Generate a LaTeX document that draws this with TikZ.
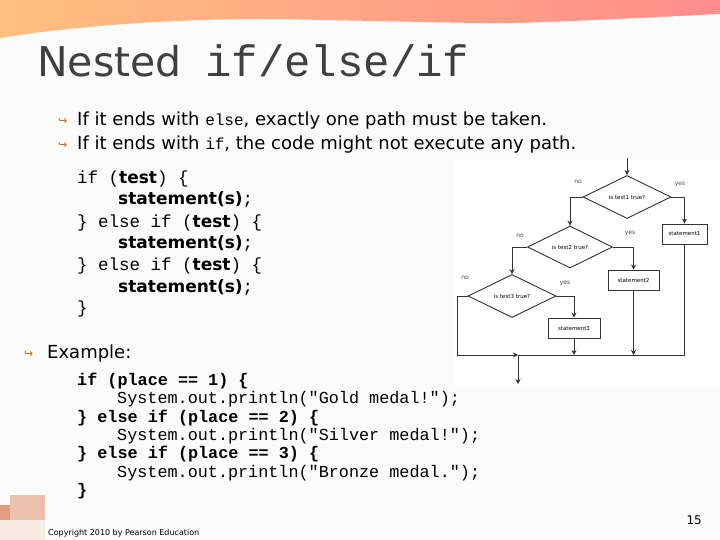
\documentclass[tikz,border=0pt]{standalone}
\usepackage{fontspec}
\setmainfont{DejaVu Sans}
\setmonofont{Liberation Mono}
\newfontfamily\djvfont{DejaVu Sans}
\usetikzlibrary{shapes.geometric,arrows.meta}
\begin{document}
\begin{tikzpicture}[x=1pt,y=-1pt,
  fc/.style={draw=black!80,line width=0.9pt},
  dia/.style={fc,diamond,aspect=2.05,inner sep=0pt,font=\fontsize{5.5}{6}\selectfont},
  box/.style={fc,rectangle,inner sep=0pt,font=\fontsize{5.5}{6}\selectfont},
  arr/.style={fc,-{Stealth[length=5pt,width=5pt]}},
  lbl/.style={font=\fontsize{6}{6}\selectfont,text=black!70},
  code/.style={anchor=base west,font=\ttfamily\fontsize{17.5}{17}\selectfont,inner sep=0pt},
  ex/.style={anchor=base west,font=\ttfamily\fontsize{16.8}{16}\selectfont,inner sep=0pt},
  bul/.style={anchor=base west,font=\fontsize{18}{18}\selectfont,inner sep=0pt},
  bmark/.style={anchor=base west,inner sep=0pt,text=orange!80!black,font=\djvfont\fontsize{11}{11}\selectfont}]
\useasboundingbox (0,0) rectangle (720,540);
\fill[white!97!gray] (0,0) rectangle (720,540);
% top wave
\shade[left color=orange!50!white, right color=red!45!white] (0,0) -- (720,0) -- (720,18) .. controls (600,28) and (450,22) .. (320,20) .. controls (200,16) and (80,25) .. (0,38) -- cycle;
\fill[white!97!gray] (0,40) .. controls (80,27) and (200,14) .. (320,24) .. controls (450,28) and (600,20) .. (720,14) -- (720,40) -- cycle;
% title
\node[anchor=base west,inner sep=0pt,font=\fontsize{41}{41}\selectfont,text=black!75] (t1) at (37,77) {Nested};
\node[anchor=base west,inner sep=0pt,font=\ttfamily\fontsize{44}{44}\selectfont,text=black!75] (t2) at (205,77) {if/else/if};
% bullets
\node[bmark] (b1) at (58,125) {↪};
\node[bul] (l1) at (77,126) {If it ends with \texttt{\fontsize{16}{16}\selectfont else}, exactly one path must be taken.};
\node[bmark] (b2) at (58,149) {↪};
\node[bul] (l2) at (77,150) {If it ends with \texttt{\fontsize{16}{16}\selectfont if}, the code might not execute any path.};
% code
\node[code] (c1) at (77,184) {if (\textbf{\rmfamily\fontsize{17}{17}\selectfont test}) \{};
\node[code] (c2) at (118,205) {\textbf{\rmfamily\fontsize{17}{17}\selectfont statement(s)};};
\node[code] (c3) at (77,227) {\} else if (\textbf{\rmfamily\fontsize{17}{17}\selectfont test}) \{};
\node[code] (c4) at (118,248) {\textbf{\rmfamily\fontsize{17}{17}\selectfont statement(s)};};
\node[code] (c5) at (77,270) {\} else if (\textbf{\rmfamily\fontsize{17}{17}\selectfont test}) \{};
\node[code] (c6) at (118,292) {\textbf{\rmfamily\fontsize{17}{17}\selectfont statement(s)};};
\node[code] (c7) at (77,313) {\}};
% flowchart
\fill[white] (455,160) rectangle (720,385);
\node[dia,minimum width=88pt,minimum height=43pt] (d1) at (627,197) {is test1 true?};
\node[dia,minimum width=85pt,minimum height=42pt] (d2) at (570,247) {is test2 true?};
\node[dia,minimum width=88pt,minimum height=43pt] (d3) at (512,296) {is test3 true?};
\node[box,minimum width=45pt,minimum height=20pt] (s1) at (684.5,234) {statement1};
\node[box,minimum width=51pt,minimum height=20pt] (s2) at (633.5,280) {statement2};
\node[box,minimum width=52pt,minimum height=20pt] (s3) at (574,328) {statement3};
\coordinate (top) at (627,158);
\coordinate (ml) at (457,355);
\coordinate (mm) at (518,355);
\coordinate (mr) at (689,355);
\coordinate (end) at (518,384);
\draw[arr] (top) -- (d1.north);
\draw[arr] (d1.east) -| (s1.north);
\draw[arr] (d1.west) -| (d2.north);
\draw[arr] (d2.east) -| (s2.north);
\draw[arr] (d2.west) -| (d3.north);
\draw[arr] (d3.east) -| (s3.north);
\draw[fc] (d3.west) -| (ml);
\draw[arr] (ml) -- (mm);
\draw[arr] (s3.south) -- (s3.south |- mr);
\draw[arr] (s2.south) -- (s2.south |- mr);
\draw[fc] (s1.south) |- (mm);
\draw[arr] (mm) -- (end);
\node[lbl] (n1) at (578,182) {no};
\node[lbl] (y1) at (680,184) {yes};
\node[lbl] (n2) at (520,236) {no};
\node[lbl] (y2) at (630,233) {yes};
\node[lbl] (n3) at (465,278) {no};
\node[lbl] (y3) at (565,283) {yes};
% example
\node[bmark] (b3) at (24,357) {↪};
\node[bul] (exl) at (47,358) {Example:};
\node[ex] (e1) at (77,385) {\textbf{if (place == 1) \{}};
\node[ex] (e2) at (117,403) {System.out.println("Gold medal!");};
\node[ex] (e3) at (77,422) {\textbf{\} else if (place == 2) \{}};
\node[ex] (e4) at (117,440) {System.out.println("Silver medal!");};
\node[ex] (e5) at (77,458) {\textbf{\} else if (place == 3) \{}};
\node[ex] (e6) at (117,477) {System.out.println("Bronze medal.");};
\node[ex] (e7) at (77,495) {\textbf{\}}};
% footer
\fill[red!30!brown!60] (0,505) rectangle (30,540);
\fill[red!20!brown!40] (10,495) rectangle (45,520);
\fill[white!85!brown] (0,520) rectangle (45,540);
\node[anchor=base west,inner sep=0pt,font=\fontsize{8}{8}\selectfont] (cp) at (48,535) {Copyright 2010 by Pearson Education};
\node[anchor=base east,inner sep=0pt,font=\fontsize{12}{12}\selectfont] (pg) at (702,524) {15};
\end{tikzpicture}
\end{document}
